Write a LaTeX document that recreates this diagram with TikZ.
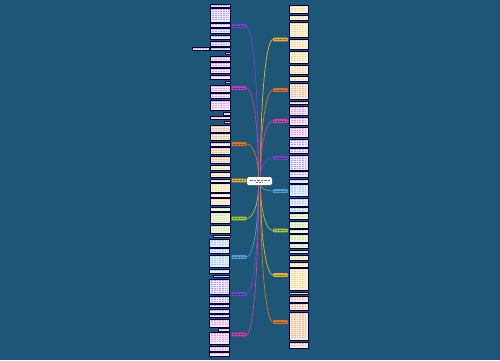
\documentclass[tikz,border=0pt]{standalone}
\usetikzlibrary{fit}
\definecolor{bg}{HTML}{1D5677}
\definecolor{cPur}{HTML}{6A48C8}
\definecolor{cMag}{HTML}{B440C8}
\definecolor{cPnk}{HTML}{D040A8}
\definecolor{cOrg}{HTML}{D8742E}
\definecolor{cYel}{HTML}{E8B23A}
\definecolor{cGrn}{HTML}{A8C83A}
\definecolor{cBlu}{HTML}{4AA0DC}
\definecolor{fPur}{HTML}{EEE8F8}
\definecolor{fPnk}{HTML}{F7E8F4}
\definecolor{fOrg}{HTML}{FBEBDD}
\definecolor{fYel}{HTML}{FBF3DC}
\definecolor{fGrn}{HTML}{EFF6DD}
\definecolor{fBlu}{HTML}{E4EFF9}
\tikzset{
  leafnode/.style={draw=black!75!blue, line width=0.5pt, inner sep=0pt},
  inkline/.style={line width=0.5pt, dash pattern=on 1pt off 0.6pt},
  labnode/.style={rectangle, rounded corners=0.8pt, minimum width=15pt, minimum height=3.6pt, inner sep=0pt},
  rootnode/.style={rectangle, rounded corners=1.5pt, fill=white, minimum width=25pt, minimum height=8pt, inner sep=0pt},
  conn/.style={line width=0.7pt}
}
\newcommand\lfbox[7]{%
  \node[leafnode, fill=#6, fit={(#2,#3) (#4,#5)}] (#1) {};
  \pgfmathtruncatemacro\nlines{max(1,(#5-#3-0.5)/2)}%
  \foreach \k in {1,...,\nlines}{%
    \draw[inkline, #7!45!#6] ({#2+1.5},{#3+2*\k-0.5}) -- ({#4-1.5},{#3+2*\k-0.5});
  }%
}
\newcommand\lab[4]{%
  \node[labnode, fill=#4] (#1) at (#2,#3) {};
  \draw[line width=0.6pt, #4!55!black, dash pattern=on 1pt off 0.4pt] ([xshift=1.5pt]#1.west) -- ([xshift=-1.5pt]#1.east);
}
% left connector: color, label name, label y, root anchor, root anchor y
\newcommand\lconn[5]{%
  \draw[conn, #1] ([xshift=-1pt]root.#4) .. controls (258.5,{#3+0.35*(#5-#3)}) and (252,#3) .. (#2.east);
}
\newcommand\rconn[5]{%
  \draw[conn, #1] ([xshift=1pt]root.#4) .. controls (260.5,{#3+0.35*(#5-#3)}) and (267,#3) .. (#2.west);
}
\begin{document}
\begin{tikzpicture}[x=1pt,y=-1pt]
\fill[bg] (0,0) rectangle (500,360);
\useasboundingbox (0,0) rectangle (500,360);

% ---------- left leaves ----------
\lfbox{a1}{210}{4}{230}{7}{fPur}{cPur}
\lfbox{a2}{210}{8}{230}{22}{fPur}{cPur}
\lfbox{a3}{210}{23}{230}{27}{fPur}{cPur}
\lfbox{a4}{210}{28}{230}{33}{fPur}{cPur}
\lfbox{a5}{210}{35}{230}{39}{fPur}{cPur}
\lfbox{a6}{210}{41}{230}{46}{fPur}{cPur}
\lfbox{a7}{210}{47}{230}{50}{fPur}{cPur}
\lfbox{a8}{192}{47}{209}{50}{fPur}{cPur}
\lfbox{b1}{225}{52}{230}{54}{fPnk}{cMag}
\lfbox{b2}{210}{56}{230}{61}{fPnk}{cMag}
\lfbox{b3}{210}{62}{230}{67}{fPnk}{cMag}
\lfbox{b4}{210}{68}{230}{73}{fPnk}{cMag}
\lfbox{b5}{210}{75}{230}{79}{fPnk}{cMag}
\lfbox{b6}{225}{81}{230}{83}{fPnk}{cMag}
\lfbox{b7}{210}{85}{230}{92}{fPnk}{cMag}
\lfbox{b8}{210}{93}{230}{98}{fPnk}{cMag}
\lfbox{b9}{210}{100}{230}{110}{fPnk}{cMag}
\lfbox{b10}{223}{112}{230}{115}{fPnk}{cMag}
\lfbox{c1}{210}{116}{230}{119}{fOrg}{cOrg}
\lfbox{c2}{224}{121}{230}{123}{fOrg}{cOrg}
\lfbox{c3}{210}{125}{230}{132}{fOrg}{cOrg}
\lfbox{c4}{210}{133}{230}{140}{fOrg}{cOrg}
\lfbox{c5}{210}{142}{230}{146}{fOrg}{cOrg}
\lfbox{c6}{210}{147}{230}{154}{fOrg}{cOrg}
\lfbox{c7}{210}{156}{230}{163}{fOrg}{cOrg}
\lfbox{d1}{210}{165}{230}{170}{fYel}{cYel}
\lfbox{d2}{210}{172}{230}{177}{fYel}{cYel}
\lfbox{d3}{210}{179}{230}{182}{fYel}{cYel}
\lfbox{d4}{210}{183}{230}{192}{fYel}{cYel}
\lfbox{d5}{210}{193}{230}{197}{fYel}{cYel}
\lfbox{d6}{210}{198}{230}{205}{fYel}{cYel}
\lfbox{e1}{210}{207}{230}{211}{fGrn}{cGrn}
\lfbox{e2}{210}{212}{230}{223}{fGrn}{cGrn}
\lfbox{e3}{210}{225}{230}{233}{fGrn}{cGrn}
\lfbox{e4}{213}{235}{230}{237}{fGrn}{cGrn}
\lfbox{f1}{209}{239}{229}{247}{fBlu}{cBlu}
\lfbox{f2}{209}{248}{229}{253}{fBlu}{cBlu}
\lfbox{f3}{209}{255}{229}{267}{fBlu}{cBlu}
\lfbox{f4}{209}{269}{229}{273}{fBlu}{cBlu}
\lfbox{f5}{213}{275}{229}{277}{fBlu}{cBlu}
\lfbox{g1}{209}{279}{229}{294}{fPur}{cPur}
\lfbox{g2}{209}{296}{229}{303}{fPur}{cPur}
\lfbox{g3}{209}{304}{229}{307}{fPur}{cPur}
\lfbox{g4}{209}{309}{229}{313}{fPur}{cPur}
\lfbox{g5}{209}{314}{229}{317}{fPur}{cPur}
\lfbox{h1}{209}{319}{229}{327}{fPnk}{cPnk}
\lfbox{h2}{218}{328}{229}{331}{fPnk}{cPnk}
\lfbox{h3}{209}{332}{229}{344}{fPnk}{cPnk}
\lfbox{h4}{209}{346}{229}{351}{fPnk}{cPnk}
\lfbox{h5}{209}{352}{229}{356}{fPnk}{cPnk}

% ---------- right leaves ----------
\lfbox{p1}{289}{5}{308}{13}{fYel}{cYel}
\lfbox{p2}{289}{15}{308}{20}{fYel}{cYel}
\lfbox{p3}{289}{22}{308}{37}{fYel}{cYel}
\lfbox{p4}{289}{39}{308}{49}{fYel}{cYel}
\lfbox{p5}{289}{51}{308}{63}{fYel}{cYel}
\lfbox{p6}{289}{65}{308}{74}{fYel}{cYel}
\lfbox{p7}{289}{76}{308}{81}{fYel}{cYel}
\lfbox{q1}{289}{83}{308}{99}{fOrg}{cOrg}
\lfbox{q2}{289}{101}{308}{104}{fOrg}{cOrg}
\lfbox{r1}{289}{106}{308}{115}{fPnk}{cPnk}
\lfbox{r2}{289}{117}{308}{125}{fPnk}{cPnk}
\lfbox{r3}{289}{127}{308}{137}{fPnk}{cPnk}
\lfbox{s1}{289}{139}{308}{147}{fPur}{cPur}
\lfbox{s2}{289}{148}{308}{153}{fPur}{cPur}
\lfbox{s3}{289}{155}{308}{170}{fPur}{cPur}
\lfbox{s4}{289}{171}{308}{177}{fPur}{cPur}
\lfbox{t1}{289}{179}{308}{183}{fBlu}{cBlu}
\lfbox{t2}{289}{184}{308}{196}{fBlu}{cBlu}
\lfbox{t3}{289}{198}{308}{206}{fBlu}{cBlu}
\lfbox{t4}{289}{207}{308}{212}{fBlu}{cBlu}
\lfbox{u1}{289}{213}{308}{219}{fGrn}{cGrn}
\lfbox{u2}{289}{221}{308}{228}{fGrn}{cGrn}
\lfbox{u3}{289}{229}{308}{233}{fGrn}{cGrn}
\lfbox{u4}{289}{234}{308}{242}{fGrn}{cGrn}
\lfbox{u5}{289}{243}{308}{248}{fGrn}{cGrn}
\lfbox{u6}{289}{250}{308}{253}{fGrn}{cGrn}
\lfbox{v1}{289}{255}{308}{260}{fYel}{cYel}
\lfbox{v2}{289}{262}{308}{267}{fYel}{cYel}
\lfbox{v3}{289}{268}{308}{290}{fYel}{cYel}
\lfbox{v4}{289}{292}{308}{294}{fYel}{cYel}
\lfbox{w1}{289}{296}{308}{302}{fOrg}{cOrg}
\lfbox{w2}{289}{303}{308}{310}{fOrg}{cOrg}
\lfbox{w3}{289}{312}{308}{340}{fOrg}{cOrg}
\lfbox{w4}{289}{342}{308}{348}{fOrg}{cOrg}

% ---------- root ----------
\node[rootnode] (root) at (259.5,181) {};
\draw[line width=0.6pt, black!55, dash pattern=on 1pt off 0.4pt] (249.5,179.8) -- (269.5,179.8);
\draw[line width=0.6pt, black!55, dash pattern=on 1pt off 0.4pt] (256,182.5) -- (263,182.5);

% ---------- labels ----------
\lab{L1}{239}{26}{cPur}
\lab{L2}{239}{88}{cMag}
\lab{L3}{239}{144}{cOrg}
\lab{L4}{239}{180.5}{cYel}
\lab{L5}{239}{218.5}{cGrn}
\lab{L6}{239}{257}{cBlu}
\lab{L7}{239}{294}{cPur}
\lab{L8}{239}{334.5}{cPnk}
\lab{R1}{280.5}{39.5}{cYel}
\lab{R2}{280.5}{90}{cOrg}
\lab{R3}{280.5}{121}{cPnk}
\lab{R4}{280.5}{158}{cPur}
\lab{R5}{280.5}{191}{cBlu}
\lab{R6}{280.5}{230.5}{cGrn}
\lab{R7}{280.5}{275}{cYel}
\lab{R8}{280.5}{322}{cOrg}

% ---------- connectors ----------
\lconn{cPur}{L1}{26}{north}{177}
\lconn{cMag}{L2}{88}{north}{177}
\lconn{cOrg}{L3}{144}{north}{177}
\draw[conn, cYel] (root.west) -- (L4.east);
\lconn{cGrn}{L5}{218.5}{south}{185}
\lconn{cBlu}{L6}{257}{south}{185}
\lconn{cPur}{L7}{294}{south}{185}
\lconn{cPnk}{L8}{334.5}{south}{185}
\rconn{cYel}{R1}{39.5}{north}{177}
\rconn{cOrg}{R2}{90}{north}{177}
\rconn{cPnk}{R3}{121}{north}{177}
\rconn{cPur}{R4}{158}{north}{177}
\rconn{cBlu}{R5}{191}{south}{185}
\rconn{cGrn}{R6}{230.5}{south}{185}
\rconn{cYel}{R7}{275}{south}{185}
\rconn{cOrg}{R8}{322}{south}{185}
\end{tikzpicture}
\end{document}
